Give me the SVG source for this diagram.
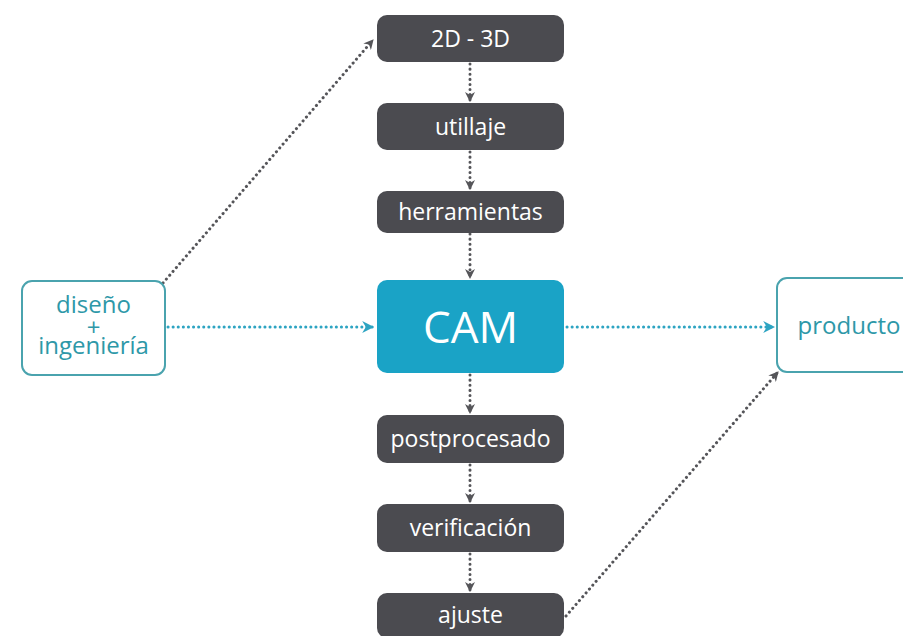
<svg xmlns="http://www.w3.org/2000/svg" width="903" height="636" viewBox="0 0 903 636">
<style>
.dark{fill:#4b4b50}
.dt{fill:#ffffff;font-family:"Open Sans","Noto Sans",sans-serif;font-size:23px;text-anchor:middle}
.cam{fill:#1aa3c6}
.out{fill:#ffffff;stroke:#4aa3ae;stroke-width:2}
.tt{fill:#2e98a8;font-family:"Open Sans","Noto Sans",sans-serif;font-size:24px;text-anchor:middle}
.cg{stroke:#555559;stroke-width:3;stroke-dasharray:0.1 5;stroke-linecap:round;fill:none}
.ct{stroke:#2da4c2;stroke-width:3;stroke-dasharray:0.1 5;stroke-linecap:round;fill:none}
</style>
<defs>
<marker id="ag" viewBox="0 0 10 10" refX="9" refY="5" markerWidth="10" markerHeight="10" markerUnits="userSpaceOnUse" orient="auto">
<path d="M0,0 L10,5 L0,10 L3,5 Z" fill="#555559"/>
</marker>
<marker id="at" viewBox="0 0 10 10" refX="9" refY="5" markerWidth="12" markerHeight="12" markerUnits="userSpaceOnUse" orient="auto">
<path d="M0,0 L10,5 L0,10 L3,5 Z" fill="#2da4c2"/>
</marker>
</defs>
<rect width="903" height="636" fill="#ffffff"/>
<g id="connectors">
<line class="cg" x1="470" y1="64" x2="470" y2="101" marker-end="url(#ag)"/>
<line class="cg" x1="470" y1="152" x2="470" y2="189" marker-end="url(#ag)"/>
<line class="cg" x1="470" y1="234" x2="470" y2="278" marker-end="url(#ag)"/>
<line class="cg" x1="470" y1="375" x2="470" y2="413" marker-end="url(#ag)"/>
<line class="cg" x1="470" y1="465" x2="470" y2="502" marker-end="url(#ag)"/>
<line class="cg" x1="470" y1="554" x2="470" y2="591" marker-end="url(#ag)"/>
<line class="ct" x1="168" y1="327" x2="373" y2="327" marker-end="url(#at)"/>
<line class="ct" x1="567" y1="327" x2="774" y2="327" marker-end="url(#at)"/>
<line class="cg" x1="163" y1="283" x2="373" y2="40" marker-end="url(#ag)"/>
<line class="cg" x1="566" y1="616" x2="778" y2="372" marker-end="url(#ag)"/>
</g>
<g id="n2d3d"><rect class="dark" x="377" y="15" width="187" height="47" rx="10"/><text class="dt" x="470.5" y="46.5">2D - 3D</text></g>
<g id="utillaje"><rect class="dark" x="377" y="103" width="187" height="47" rx="10"/><text class="dt" x="470.5" y="134.5">utillaje</text></g>
<g id="herramientas"><rect class="dark" x="377" y="191" width="187" height="42" rx="10"/><text class="dt" x="470.5" y="220">herramientas</text></g>
<g id="cam"><rect class="cam" x="377" y="280" width="187" height="93" rx="10"/><text x="470.5" y="343" fill="#ffffff" font-family="Open Sans, Noto Sans, sans-serif" font-size="44" text-anchor="middle">CAM</text></g>
<g id="postprocesado"><rect class="dark" x="377" y="415" width="187" height="48" rx="10"/><text class="dt" x="470.5" y="447">postprocesado</text></g>
<g id="verificacion"><rect class="dark" x="377" y="504" width="187" height="48" rx="10"/><text class="dt" x="470.5" y="536">verificación</text></g>
<g id="ajuste"><rect class="dark" x="377" y="593" width="187" height="45" rx="10"/><text class="dt" x="470.5" y="623">ajuste</text></g>
<g id="diseno"><rect class="out" x="22" y="281" width="143" height="94" rx="10"/><text class="tt" x="93.5" y="313">diseño</text><text class="tt" x="93.5" y="336" font-size="20">+</text><text class="tt" x="93.5" y="354">ingeniería</text></g>
<g id="producto"><rect class="out" x="777" y="278" width="150" height="94" rx="10"/><text class="tt" x="849" y="334">producto</text></g>
</svg>
